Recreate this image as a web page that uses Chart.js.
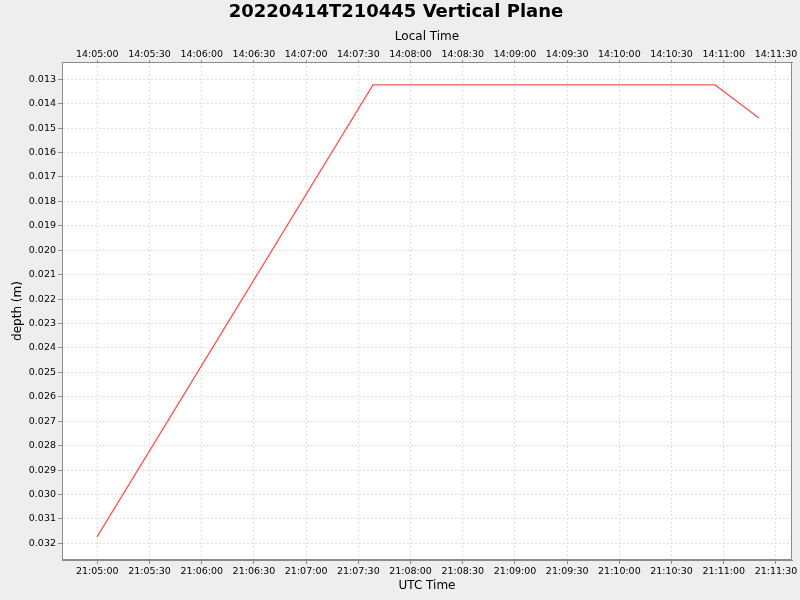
<!DOCTYPE html>
<html>
<head>
<meta charset="utf-8">
<script src="https://cdn.jsdelivr.net/npm/chart.js@4/dist/chart.umd.min.js"></script>
<style>
  html, body { margin: 0; padding: 0; background: #eeeeee; }
  #wrap { width: 800px; height: 600px; }
</style>
</head>
<body>
<div id="wrap"><canvas id="depthChart" width="800" height="600"></canvas></div>
<script>
// samples (UTC)
var times = ["21:04:59.8", "21:07:38.4", "21:10:55.0", "21:11:20.2"];
var depths = [0.03174, 0.01323, 0.01323, 0.01458];

var xMinTime = "21:04:39.7";
var xMaxTime = "21:11:39.2";
var depthMin = 0.012291;
var depthMax = 0.032684;
var localOffsetHours = -7;
var timeStep = 30; // seconds between time ticks

function toSec(t) {
  var p = t.split(":");
  return (+p[0]) * 3600 + (+p[1]) * 60 + parseFloat(p[2]);
}

function fmt(sec) {
  sec = Math.round(sec);
  sec = ((sec % 86400) + 86400) % 86400;
  var h = Math.floor(sec / 3600);
  var m = Math.floor((sec % 3600) / 60);
  var s = sec % 60;
  return String(h).padStart(2, "0") + ":" + String(m).padStart(2, "0") + ":" + String(s).padStart(2, "0");
}

var points = [];
for (var i = 0; i < times.length; i++) {
  points.push({ x: toSec(times[i]), y: depths[i] });
}

// ticks on whole 30 s marks inside the range
function timeTicks(scale) {
  var list = [];
  var v = Math.ceil(scale.min / timeStep) * timeStep;
  for (; v <= scale.max; v += timeStep) {
    list.push({ value: v });
  }
  scale.ticks = list;
}

function noSidePadding(scale) {
  scale.paddingLeft = 0;
  scale.paddingRight = 0;
}

var tickFont = { family: "DejaVu Sans", size: 9.5 };
var labelFont = { family: "DejaVu Sans", size: 12 };
var gridColor = "#dfdfdf";
var axisColor = "#8c8c8c";

// white plot background + grey outline, like the original
var plotFrame = {
  id: "plotFrame",
  beforeDraw: function (chart) {
    var a = chart.chartArea;
    var c = chart.ctx;
    c.save();
    c.fillStyle = "#eeeeee";
    c.fillRect(0, 0, chart.width, chart.height);
    c.fillStyle = "#ffffff";
    c.fillRect(a.left, a.top, a.right - a.left, a.bottom - a.top);
    c.restore();
  },
  afterDraw: function (chart) {
    var a = chart.chartArea;
    var c = chart.ctx;
    c.save();
    c.strokeStyle = axisColor;
    c.lineWidth = 1;
    c.strokeRect(a.left + 0.5, a.top + 0.5, a.right - a.left - 1, a.bottom - a.top - 1);
    c.restore();
  },
};

const ctx = document.getElementById("depthChart");

new Chart(ctx, {
  type: "line",
  data: {
    datasets: [
      {
        label: "depth",
        data: points,
        borderColor: "#ff5555",
        borderWidth: 1.3,
        pointRadius: 0,
        fill: false,
        tension: 0,
        xAxisID: "x",
        yAxisID: "y",
      },
    ],
  },
  plugins: [plotFrame],
  options: {
    responsive: false,
    animation: false,
    devicePixelRatio: 1,
    layout: { padding: { left: 0, right: 8, top: 0, bottom: 0 } },
    plugins: {
      legend: { display: false },
      tooltip: { enabled: false },
      title: {
        display: true,
        text: "20220414T210445 Vertical Plane",
        color: "#000000",
        font: { family: "DejaVu Sans", size: 18, weight: "bold" },
        padding: { top: 2, bottom: 2 },
      },
    },
    scales: {
      x: {
        type: "linear",
        position: "bottom",
        min: toSec(xMinTime),
        max: toSec(xMaxTime),
        afterBuildTicks: timeTicks,
        afterFit: function (scale) {
          scale.height = 40;
          noSidePadding(scale);
        },
        ticks: {
          autoSkip: false,
          maxRotation: 0,
          padding: 2,
          color: "#000000",
          font: tickFont,
          callback: function (value) {
            return fmt(value);
          },
        },
        grid: { color: gridColor, tickColor: axisColor, tickLength: 4 },
        border: { color: axisColor, dash: [2, 2] },
        title: {
          display: true,
          text: "UTC Time",
          color: "#000000",
          font: labelFont,
          padding: { top: 0, bottom: 7 },
        },
      },
      x2: {
        type: "linear",
        position: "top",
        min: toSec(xMinTime),
        max: toSec(xMaxTime),
        afterBuildTicks: timeTicks,
        afterFit: function (scale) {
          scale.height = 36.4;
          noSidePadding(scale);
        },
        ticks: {
          autoSkip: false,
          maxRotation: 0,
          padding: 0,
          color: "#000000",
          font: tickFont,
          callback: function (value) {
            return fmt(value + localOffsetHours * 3600);
          },
        },
        grid: { drawOnChartArea: false, tickColor: axisColor, tickLength: 2 },
        border: { color: axisColor },
        title: {
          display: true,
          text: "Local Time",
          color: "#000000",
          font: labelFont,
          padding: { top: 4, bottom: 0 },
        },
      },
      y: {
        type: "linear",
        reverse: true,
        min: depthMin,
        max: depthMax,
        afterFit: function (scale) {
          scale.width = 62;
        },
        ticks: {
          stepSize: 0.001,
          includeBounds: false,
          autoSkip: false,
          padding: 2,
          color: "#000000",
          font: tickFont,
          callback: function (value) {
            return value.toFixed(3);
          },
        },
        grid: { color: gridColor, tickColor: axisColor, tickLength: 4 },
        border: { color: axisColor, dash: [2, 2] },
        title: {
          display: true,
          text: "depth (m)",
          color: "#000000",
          font: labelFont,
          padding: { top: 11, bottom: 0 },
        },
      },
    },
  },
});
</script>
</body>
</html>
